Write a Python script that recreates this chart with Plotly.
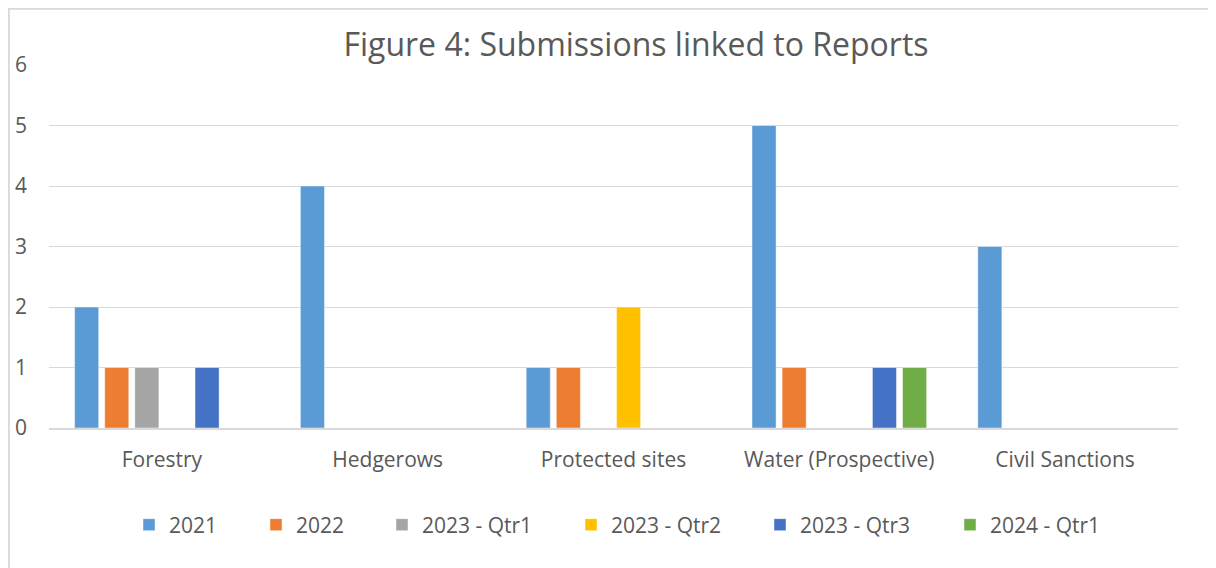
import plotly.graph_objects as go

categories = ["Forestry", "Hedgerows", "Protected sites", "Water (Prospective)", "Civil Sanctions"]
series_names = ["2021", "2022", "2023 - Qtr1", "2023 - Qtr2", "2023 - Qtr3", "2024 - Qtr1"]
v2021 = [2, 4, 1, 5, 3]
v2022 = [1, 0, 1, 1, 0]
v2023q1 = [1, 0, 0, 0, 0]
v2023q2 = [0, 0, 2, 0, 0]
v2023q3 = [1, 0, 0, 1, 0]
v2024q1 = [0, 0, 0, 1, 0]
series_values = [v2021, v2022, v2023q1, v2023q2, v2023q3, v2024q1]
colors = ["#5B9BD5", "#ED7D31", "#A5A5A5", "#FFC000", "#4472C4", "#70AD47"]
y_ticks = [0, 1, 2, 3, 4, 5, 6]

# page is rendered with an 8px body margin, so figure coords = page coords - 8
W, H = 1208, 560
ML, MR, MT, MB = 41, 38, 57, 140
PW = W - ML - MR
PH = H - MT - MB
FONT = "Open Sans"
TXT = "#595959"

def px_x(p):
    return (p - ML) / PW

def px_y(p):
    return (H - MB - p) / PH

legend_left_px = [121, 248, 374, 563, 752, 942]

fig = go.Figure()
for i, (name, vals, col) in enumerate(zip(series_names, series_values, colors)):
    lg = "legend" if i == 0 else f"legend{i+1}"
    fig.add_trace(go.Bar(
        x=categories, y=vals, name=name,
        marker=dict(color=col, line=dict(color="rgba(255,255,255,0.45)", width=1)),
        legend=lg, hoverinfo="x+y+name",
    ))

layout_legends = {}
for i in range(len(series_names)):
    key = "legend" if i == 0 else f"legend{i+1}"
    layout_legends[key] = dict(
        x=px_x(legend_left_px[i]), xanchor="left",
        y=px_y(517), yanchor="middle",
        orientation="h", bgcolor="rgba(0,0,0,0)", borderwidth=0,
        font=dict(family=FONT, size=21, color=TXT),
    )

fig.update_layout(
    width=W, height=H,
    margin=dict(l=ML, r=MR, t=MT, b=MB, pad=0, autoexpand=False),
    paper_bgcolor="white", plot_bgcolor="white",
    barmode="group", bargap=0.2, bargroupgap=0.2,
    title=dict(text="Figure 4: Submissions linked to Reports",
               x=628 / W, xanchor="center", xref="container",
               y=1 - 37 / H, yanchor="middle", yref="container",
               font=dict(family=FONT, size=32, color=TXT)),
    font=dict(family=FONT, color=TXT),
    showlegend=True,
    **layout_legends,
)

fig.update_yaxes(
    range=[0, 6], tickvals=y_ticks, showgrid=True, gridcolor="#D9D9D9", gridwidth=1,
    zeroline=False, showline=False, ticks="", ticklabelstandoff=21, automargin=False,
    tickfont=dict(family=FONT, size=21, color=TXT), fixedrange=True,
)
fig.update_xaxes(
    showline=True, linecolor="#D9D9D9", linewidth=1.5, ticks="", showgrid=False,
    ticklabelstandoff=12, automargin=False, tickfont=dict(family=FONT, size=21, color=TXT),
)

fig.add_shape(type="rect", xref="paper", yref="paper",
              x0=px_x(0.8), x1=px_x(1300), y0=px_y(700), y1=px_y(0.8),
              line=dict(color="#D9D9D9", width=2), fillcolor="rgba(0,0,0,0)", layer="below")

fig.write_html("out.html")
